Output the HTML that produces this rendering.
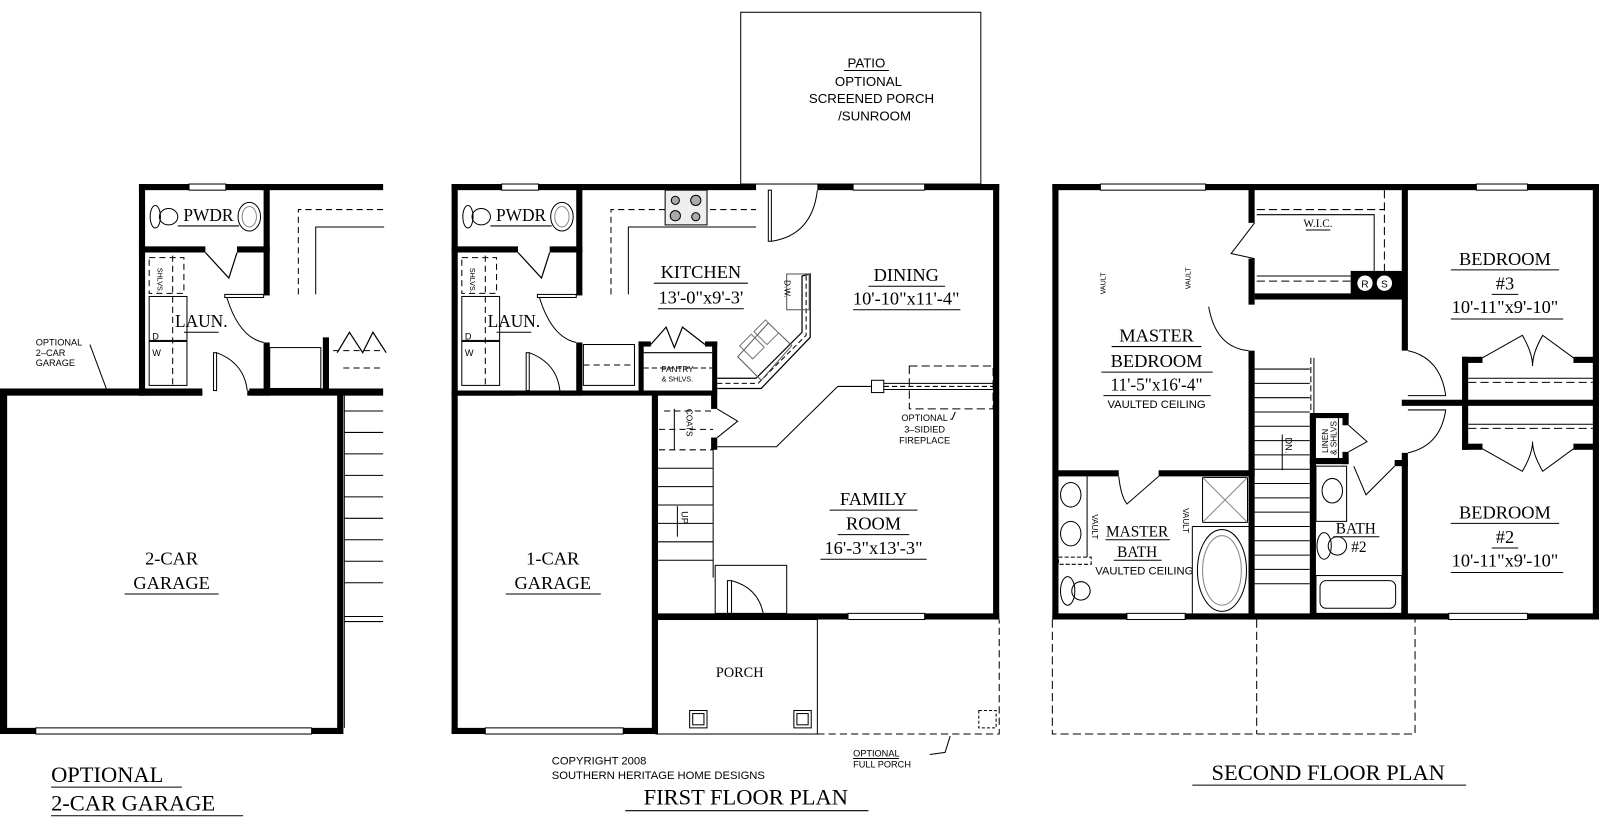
<!DOCTYPE html>
<html><head><meta charset="utf-8"><style>
html,body{margin:0;padding:0;background:#fff;}
svg{display:block;}
.s{font-family:"Liberation Serif",serif;fill:#000;}
.a{font-family:"Liberation Sans",sans-serif;fill:#000;}
</style></head><body>
<svg width="1601" height="825" viewBox="0 0 1567 807" preserveAspectRatio="none" xmlns="http://www.w3.org/2000/svg">
<rect width="1567" height="807" fill="#fff"/>
<defs>
<clipPath id="cl"><rect x="0" y="0" width="376" height="807"/></clipPath>
<g id="blk">
 <rect x="442" y="180" width="6" height="207"/>
 <rect x="442" y="180" width="128" height="6"/>
 <rect x="491" y="180" width="36" height="6" fill="#fff" stroke="#000" stroke-width="1"/>
 <rect x="564" y="180" width="6" height="109"/>
 <rect x="564" y="335" width="6" height="50"/>
 <rect x="442" y="241" width="65" height="6"/>
 <rect x="538" y="241" width="32" height="6"/>
 <path d="M507 247 L530 272 L538 247" fill="none" stroke="#000" stroke-width="1.2"/>
 <rect x="526" y="288" width="38" height="3" fill="none" stroke="#000" stroke-width="1"/>
 <path d="M528 291 Q540 330 564 335" fill="none" stroke="#000" stroke-width="1"/>
 <rect x="452" y="290" width="37" height="43" fill="none" stroke="#000" stroke-width="1"/>
 <rect x="452" y="334" width="37" height="43" fill="none" stroke="#000" stroke-width="1"/>
 <text x="455" y="332" class="a" font-size="9">D</text>
 <text x="455" y="348" class="a" font-size="9">W</text>
 <line x1="475" y1="250" x2="475" y2="380" stroke="#000" stroke-dasharray="6,4" stroke-width="1"/>
 <rect x="452" y="252" width="34" height="35" fill="none" stroke="#000" stroke-dasharray="6,4" stroke-width="1"/>
 <text x="0" y="0" class="a" font-size="7" transform="translate(460,262) rotate(90)">SHLVS.</text>
 <ellipse cx="458" cy="212" rx="5" ry="11" fill="none" stroke="#000"/>
 <ellipse cx="471" cy="212" rx="9" ry="8" fill="none" stroke="#000"/>
 <ellipse cx="550" cy="212" rx="11" ry="14" fill="none" stroke="#000"/>
 <ellipse cx="550" cy="212" rx="7" ry="10" fill="none" stroke="#888"/>
 <text x="510" y="216" text-anchor="middle" class="s" font-size="17">PWDR</text>
 <line x1="480" y1="221" x2="540" y2="221" stroke="#000"/>
 <text x="503" y="320" text-anchor="middle" class="s" font-size="17">LAUN.</text>
 <line x1="486" y1="325" x2="520" y2="325" stroke="#000"/>
 <rect x="442" y="382" width="62" height="5"/>
 <rect x="548" y="382" width="22" height="5"/>
 <rect x="515" y="345" width="3" height="37" fill="none" stroke="#000" stroke-width="1"/>
 <path d="M518 345 Q545 355 548 382" fill="none" stroke="#000" stroke-width="1"/>
 <path d="M598 288 L598 205 L740 205" fill="none" stroke="#000" stroke-dasharray="6,4" stroke-width="1"/>
 <path d="M615 288 L615 222 L740 222" fill="none" stroke="#000" stroke-width="1"/>
</g>
</defs>
<use href="#blk"/>
<g clip-path="url(#cl)"><use href="#blk" transform="translate(-306,0)"/></g>

<!-- ===== LEFT GARAGE PLAN ===== -->
<rect x="256" y="180" width="119" height="6"/>
<rect x="0" y="380" width="198" height="7"/>
<rect x="244" y="380" width="131" height="7"/>
<rect x="0" y="382" width="7" height="336"/>
<rect x="330" y="382" width="6" height="336"/>
<rect x="0" y="712" width="336" height="6"/>
<rect x="35" y="712" width="270" height="6" fill="#fff" stroke="#000" stroke-width="1"/>
<rect x="264" y="340" width="50" height="40" fill="none" stroke="#000" stroke-width="1"/>
<rect x="316" y="330" width="6" height="52"/>
<path d="M330 345 L342 325 L355 345 L365 325 L378 345" fill="none" stroke="#000" stroke-width="1.2"/>
<path d="M316 343 L375 343" fill="none" stroke="#000" stroke-dasharray="6,4" stroke-width="1"/>
<path d="M336 360 L375 360" stroke="#000" stroke-dasharray="6,4" stroke-width="1"/>
<g stroke="#000" stroke-width="1">
<line x1="337" y1="402" x2="375" y2="402"/><line x1="337" y1="423" x2="375" y2="423"/>
<line x1="337" y1="444" x2="375" y2="444"/><line x1="337" y1="465" x2="375" y2="465"/>
<line x1="337" y1="486" x2="375" y2="486"/><line x1="337" y1="507" x2="375" y2="507"/>
<line x1="337" y1="528" x2="375" y2="528"/><line x1="337" y1="549" x2="375" y2="549"/>
<line x1="337" y1="570" x2="375" y2="570"/><line x1="337" y1="603" x2="375" y2="603"/>
<line x1="337" y1="608" x2="375" y2="608"/>
<line x1="337" y1="387" x2="337" y2="712"/>
<line x1="88" y1="337" x2="104" y2="380"/>
</g>
<text x="35" y="338" class="a" font-size="9">OPTIONAL</text>
<text x="35" y="348" class="a" font-size="9">2–CAR</text>
<text x="35" y="358" class="a" font-size="9">GARAGE</text>
<text x="168" y="552" text-anchor="middle" class="s" font-size="18">2-CAR</text>
<text x="168" y="576" text-anchor="middle" class="s" font-size="18">GARAGE</text>
<line x1="122" y1="581" x2="214" y2="581" stroke="#000"/>
<text x="50" y="765" class="s" font-size="22">OPTIONAL</text>
<line x1="50" y1="770" x2="178" y2="770" stroke="#000"/>
<text x="50" y="793" class="s" font-size="22">2-CAR GARAGE</text>
<line x1="50" y1="798" x2="238" y2="798" stroke="#000"/>

<!-- ===== FIRST FLOOR ===== -->
<rect x="725" y="12" width="235" height="168" fill="none" stroke="#000" stroke-width="1"/>
<text x="848" y="66" text-anchor="middle" class="a" font-size="13">PATIO</text>
<line x1="826" y1="69" x2="870" y2="69" stroke="#000"/>
<text x="850" y="84" text-anchor="middle" class="a" font-size="13">OPTIONAL</text>
<text x="853" y="101" text-anchor="middle" class="a" font-size="13">SCREENED PORCH</text>
<text x="856" y="118" text-anchor="middle" class="a" font-size="13">/SUNROOM</text>

<rect x="570" y="180" width="170" height="6"/>
<rect x="800" y="180" width="178" height="6"/>
<rect x="835" y="180" width="70" height="6" fill="#fff" stroke="#000" stroke-width="1"/>
<rect x="752" y="186" width="3" height="50" fill="none" stroke="#000" stroke-width="1"/>
<path d="M755 236 Q795 230 800 186" fill="none" stroke="#000" stroke-width="1"/>
<rect x="651" y="186" width="41" height="34" fill="#eee" stroke="#000"/>
<circle cx="661" cy="196" r="4" fill="#aaa" stroke="#000"/><circle cx="681" cy="196" r="5" fill="#aaa" stroke="#000"/>
<circle cx="661" cy="211" r="5" fill="#aaa" stroke="#000"/><circle cx="681" cy="212" r="4" fill="#aaa" stroke="#000"/>
<rect x="972" y="180" width="6" height="426"/>
<rect x="642" y="600" width="336" height="6"/>
<rect x="830" y="600" width="75" height="6" fill="#fff" stroke="#000" stroke-width="1"/>
<rect x="638" y="382" width="6" height="336"/>
<rect x="442" y="382" width="260" height="5"/>
<rect x="442" y="382" width="6" height="336"/>
<rect x="442" y="712" width="202" height="6"/>
<rect x="475" y="712" width="135" height="6" fill="#fff" stroke="#000" stroke-width="1"/>
<rect x="625" y="334" width="5" height="51"/>
<rect x="697" y="334" width="5" height="51"/>
<rect x="625" y="334" width="12" height="5"/><rect x="690" y="334" width="12" height="5"/>
<path d="M637 337 L652 320 L660 340 L668 320 L690 337" fill="none" stroke="#000" stroke-width="1.2"/>
<line x1="630" y1="345" x2="697" y2="345" stroke="#000"/>
<line x1="630" y1="360" x2="697" y2="360" stroke="#000" stroke-dasharray="5,3"/>
<text x="663" y="364" text-anchor="middle" class="a" font-size="8">PANTRY</text>
<text x="663" y="373" text-anchor="middle" class="a" font-size="7">&amp; SHLVS.</text>
<rect x="571" y="337" width="50" height="40" fill="none" stroke="#000" stroke-width="1"/>
<line x1="571" y1="357" x2="621" y2="357" stroke="#000" stroke-dasharray="6,4"/>
<path d="M702 370 L740 370 L785 325 L785 270 L793 268 L793 330 L745 380 L702 380" fill="none" stroke="#000" stroke-width="1.2"/>
<path d="M702 375 L742 375 L789 328 L789 270" fill="none" stroke="#000" stroke-dasharray="5,3"/>
<rect x="770" y="268" width="22" height="35" fill="none" stroke="#555"/>
<text x="0" y="0" class="a" font-size="8" transform="translate(768,274) rotate(90)">D.W.</text>
<path d="M722 349 L752 316 L775 338 L745 372 Z" fill="none" stroke="#555"/>
<rect x="728" y="330" width="16" height="18" fill="none" stroke="#777" transform="rotate(-45 736 339)"/>
<rect x="742" y="316" width="16" height="18" fill="none" stroke="#777" transform="rotate(-45 750 325)"/>
<rect x="853" y="372" width="12" height="12" fill="#fff" stroke="#000"/>
<line x1="865" y1="375" x2="972" y2="375" stroke="#000"/><line x1="865" y1="381" x2="972" y2="381" stroke="#000"/>
<line x1="865" y1="378" x2="972" y2="378" stroke="#000" stroke-dasharray="5,3"/>
<rect x="890" y="358" width="82" height="42" fill="none" stroke="#000" stroke-dasharray="8,4"/>
<path d="M853 378 L820 378 L760 437 L702 437" fill="none" stroke="#000"/>
<path d="M935 403 L932 410 L930 410" fill="none" stroke="#000"/>
<text x="905" y="412" text-anchor="middle" class="a" font-size="9">OPTIONAL</text>
<text x="905" y="423" text-anchor="middle" class="a" font-size="9">3–SIDIED</text>
<text x="905" y="434" text-anchor="middle" class="a" font-size="9">FIREPLACE</text>
<g stroke="#000" stroke-width="1">
<line x1="698" y1="440" x2="698" y2="565"/>
<line x1="650" y1="402" x2="698" y2="402" stroke-dasharray="6,4"/>
<line x1="645" y1="420" x2="698" y2="420" stroke-dasharray="6,4"/>
<line x1="645" y1="440" x2="698" y2="440" stroke-dasharray="6,4"/>
<line x1="644" y1="458" x2="698" y2="458"/><line x1="644" y1="476" x2="698" y2="476"/>
<line x1="644" y1="494" x2="698" y2="494"/><line x1="644" y1="512" x2="698" y2="512"/>
<line x1="644" y1="530" x2="698" y2="530"/><line x1="644" y1="548" x2="698" y2="548"/>
<line x1="660" y1="400" x2="660" y2="440"/>
<line x1="663" y1="495" x2="663" y2="525"/>
<path d="M702 400 L722 412 L702 428" fill="none"/>
</g>
<rect x="696" y="386" width="6" height="14"/>
<rect x="696" y="428" width="6" height="12"/>
<text x="0" y="0" class="a" font-size="8" transform="translate(672,400) rotate(90)">COATS</text>
<text x="0" y="0" class="a" font-size="9" transform="translate(667,500) rotate(90)">UP</text>
<rect x="700" y="553" width="70" height="47" fill="none" stroke="#000"/>
<rect x="712" y="568" width="4" height="32" fill="none" stroke="#000"/>
<path d="M716 568 Q742 575 747 600" fill="none" stroke="#000"/>
<rect x="642" y="606" width="158" height="112" fill="none" stroke="#000"/>
<path d="M800 718 L978 718 L978 606" fill="none" stroke="#000" stroke-dasharray="7,4"/>
<rect x="675" y="695" width="17" height="17" fill="none" stroke="#000"/><rect x="678" y="698" width="11" height="11" fill="none" stroke="#000"/>
<rect x="777" y="695" width="17" height="17" fill="none" stroke="#000"/><rect x="780" y="698" width="11" height="11" fill="none" stroke="#000"/>
<rect x="958" y="695" width="17" height="17" fill="none" stroke="#000" stroke-dasharray="3,2"/>
<path d="M910 738 L925 736 L930 720" fill="none" stroke="#000"/>
<text x="724" y="662" text-anchor="middle" class="s" font-size="14">PORCH</text>
<text x="835" y="740" class="a" font-size="9">OPTIONAL</text>
<line x1="835" y1="742" x2="880" y2="742" stroke="#000"/>
<text x="835" y="751" class="a" font-size="9">FULL PORCH</text>
<text x="686" y="272" text-anchor="middle" class="s" font-size="18">KITCHEN</text>
<line x1="640" y1="277" x2="732" y2="277" stroke="#000"/>
<text x="686" y="297" text-anchor="middle" class="s" font-size="18">13'-0"x9'-3'</text>
<line x1="644" y1="302" x2="728" y2="302" stroke="#000"/>
<text x="887" y="275" text-anchor="middle" class="s" font-size="18">DINING</text>
<line x1="850" y1="280" x2="925" y2="280" stroke="#000"/>
<text x="887" y="298" text-anchor="middle" class="s" font-size="18">10'-10"x11'-4"</text>
<line x1="835" y1="303" x2="940" y2="303" stroke="#000"/>
<text x="855" y="494" text-anchor="middle" class="s" font-size="18">FAMILY</text>
<line x1="812" y1="499" x2="898" y2="499" stroke="#000"/>
<text x="855" y="518" text-anchor="middle" class="s" font-size="18">ROOM</text>
<line x1="820" y1="523" x2="890" y2="523" stroke="#000"/>
<text x="855" y="542" text-anchor="middle" class="s" font-size="18">16'-3"x13'-3"</text>
<line x1="803" y1="547" x2="907" y2="547" stroke="#000"/>
<text x="541" y="552" text-anchor="middle" class="s" font-size="18">1-CAR</text>
<text x="541" y="576" text-anchor="middle" class="s" font-size="18">GARAGE</text>
<line x1="495" y1="581" x2="588" y2="581" stroke="#000"/>
<text x="540" y="748" class="a" font-size="11">COPYRIGHT  2008</text>
<text x="540" y="762" class="a" font-size="11">SOUTHERN  HERITAGE  HOME  DESIGNS</text>
<text x="730" y="787" text-anchor="middle" class="s" font-size="22">FIRST FLOOR PLAN</text>
<line x1="612" y1="793" x2="850" y2="793" stroke="#000"/>

<!-- ===== SECOND FLOOR ===== -->
<rect x="1030" y="180" width="535" height="6"/>
<rect x="1077" y="180" width="103" height="6" fill="#fff" stroke="#000" stroke-width="1"/>
<rect x="1445" y="180" width="50" height="6" fill="#fff" stroke="#000" stroke-width="1"/>
<rect x="1030" y="180" width="6" height="426"/>
<rect x="1559" y="180" width="6" height="426"/>
<rect x="1030" y="600" width="535" height="6"/>
<rect x="1103" y="600" width="57" height="6" fill="#fff" stroke="#000" stroke-width="1"/>
<rect x="1418" y="600" width="77" height="6" fill="#fff" stroke="#000" stroke-width="1"/>
<rect x="1222" y="180" width="6" height="38"/>
<rect x="1222" y="253" width="6" height="45"/>
<rect x="1222" y="343" width="6" height="263"/>
<path d="M1228 218 L1205 248 L1228 253" fill="none" stroke="#000"/>
<path d="M1183 300 Q1190 340 1222 343" fill="none" stroke="#000"/>
<rect x="1228" y="287" width="145" height="6"/>
<rect x="1372" y="180" width="6" height="163"/>
<rect x="1372" y="443" width="6" height="163"/>
<rect x="1322" y="265" width="51" height="24"/>
<circle cx="1336" cy="277" r="8" fill="#fff" stroke="#000"/><circle cx="1355" cy="277" r="8" fill="#fff" stroke="#000"/>
<text x="1336" y="281" text-anchor="middle" class="a" font-size="10">R</text>
<text x="1355" y="281" text-anchor="middle" class="a" font-size="10">S</text>
<g stroke="#000" stroke-width="1" fill="none">
<path d="M1230 210 L1345 210 L1345 265"/>
<path d="M1230 205 L1355 205" stroke-dasharray="8,4"/>
<path d="M1355 186 L1355 265" stroke-dasharray="8,4"/>
<path d="M1230 270 L1322 270"/><path d="M1230 275 L1322 275" stroke-dasharray="8,4"/>
</g>
<text x="1290" y="222" text-anchor="middle" class="s" font-size="11">W.I.C.</text>
<line x1="1278" y1="225" x2="1302" y2="225" stroke="#000"/>
<g stroke="#000" stroke-width="1">
<line x1="1286" y1="350" x2="1286" y2="406"/>
<line x1="1283" y1="350" x2="1283" y2="406" stroke-dasharray="6,3"/>
<line x1="1228" y1="361" x2="1282" y2="361"/><line x1="1228" y1="375" x2="1282" y2="375"/>
<line x1="1228" y1="389" x2="1282" y2="389"/><line x1="1228" y1="403" x2="1282" y2="403"/>
<line x1="1228" y1="417" x2="1282" y2="417"/><line x1="1228" y1="431" x2="1282" y2="431"/>
<line x1="1228" y1="445" x2="1282" y2="445"/><line x1="1228" y1="459" x2="1282" y2="459"/>
<line x1="1228" y1="473" x2="1282" y2="473"/><line x1="1228" y1="487" x2="1282" y2="487"/>
<line x1="1228" y1="501" x2="1282" y2="501"/><line x1="1228" y1="515" x2="1282" y2="515"/>
<line x1="1228" y1="529" x2="1282" y2="529"/><line x1="1228" y1="543" x2="1282" y2="543"/>
<line x1="1228" y1="557" x2="1282" y2="557"/><line x1="1228" y1="571" x2="1282" y2="571"/>
<line x1="1255" y1="425" x2="1255" y2="460"/>
</g>
<text x="0" y="0" class="a" font-size="9" transform="translate(1258,428) rotate(90)">DN.</text>
<rect x="1282" y="406" width="6" height="200"/>
<rect x="1282" y="404" width="38" height="5"/>
<rect x="1282" y="448" width="38" height="6"/>
<rect x="1314" y="404" width="6" height="12"/><rect x="1314" y="442" width="6" height="12"/>
<path d="M1320 416 L1338 432 L1320 442" fill="none" stroke="#000"/>
<line x1="1310" y1="409" x2="1310" y2="448" stroke="#000"/>
<text x="0" y="0" class="a" font-size="8" transform="translate(1300,443) rotate(-90)">LINEN</text>
<text x="0" y="0" class="a" font-size="8" transform="translate(1308,445) rotate(-90)">&amp; SHLVS</text>
<rect x="1365" y="450" width="13" height="6"/>
<path d="M1365 456 L1337 484 L1325 456" fill="none" stroke="#000"/>
<rect x="1288" y="456" width="30" height="54" fill="none" stroke="#000"/>
<ellipse cx="1304" cy="480" rx="10" ry="12" fill="none" stroke="#000"/>
<ellipse cx="1296" cy="534" rx="7" ry="13" fill="none" stroke="#000"/>
<ellipse cx="1309" cy="534" rx="9" ry="9" fill="none" stroke="#000"/>
<rect x="1288" y="563" width="84" height="37" fill="none" stroke="#000"/>
<rect x="1292" y="568" width="74" height="27" rx="6" fill="none" stroke="#000"/>
<text x="1327" y="522" text-anchor="middle" class="s" font-size="15">BATH</text>
<line x1="1305" y1="525" x2="1350" y2="525" stroke="#000"/>
<text x="1330" y="540" text-anchor="middle" class="s" font-size="15">#2</text>
<rect x="1431" y="349" width="6" height="91"/>
<rect x="1431" y="349" width="20" height="6"/><rect x="1540" y="349" width="25" height="6"/>
<rect x="1372" y="391" width="193" height="6"/>
<rect x="1431" y="434" width="20" height="6"/><rect x="1540" y="434" width="25" height="6"/>
<g stroke="#000" stroke-width="1" fill="none">
<path d="M1451 350 L1490 328 Q1500 345 1500 358 Q1500 345 1510 328 L1540 350"/>
<path d="M1451 439 L1490 461 Q1500 444 1500 432 Q1500 444 1510 461 L1540 439"/>
<line x1="1437" y1="370" x2="1559" y2="370"/><line x1="1437" y1="374" x2="1559" y2="374" stroke-dasharray="8,4"/>
<line x1="1437" y1="415" x2="1559" y2="415"/><line x1="1437" y1="419" x2="1559" y2="419" stroke-dasharray="8,4"/>
<path d="M1378 343 Q1410 350 1415 387 L1378 387"/>
<path d="M1378 443 Q1410 436 1415 401 L1378 401"/>
</g>
<rect x="1036" y="460" width="59" height="6"/>
<rect x="1134" y="460" width="94" height="6"/>
<path d="M1095 466 Q1097 485 1103 493 L1134 466" fill="none" stroke="#000"/>
<line x1="1064" y1="466" x2="1064" y2="545" stroke="#000"/>
<rect x="1036" y="545" width="32" height="7" fill="none" stroke="#000" stroke-dasharray="4,2"/>
<ellipse cx="1048" cy="484" rx="10" ry="12" fill="none" stroke="#000"/>
<ellipse cx="1048" cy="522" rx="10" ry="12" fill="none" stroke="#000"/>
<ellipse cx="1045" cy="578" rx="7" ry="14" fill="none" stroke="#000"/>
<ellipse cx="1058" cy="578" rx="9" ry="9" fill="none" stroke="#000"/>
<rect x="1177" y="467" width="44" height="44" fill="none" stroke="#000"/>
<path d="M1177 467 L1221 511 M1221 467 L1177 511" stroke="#888"/>
<line x1="1167" y1="515" x2="1167" y2="600" stroke="#000"/>
<line x1="1167" y1="515" x2="1222" y2="515" stroke="#000"/>
<ellipse cx="1196" cy="558" rx="24" ry="40" fill="none" stroke="#000"/>
<ellipse cx="1196" cy="558" rx="19" ry="34" fill="none" stroke="#888"/>
<text x="0" y="0" class="a" font-size="8" transform="translate(1069,503) rotate(90)">VAULT</text>
<text x="0" y="0" class="a" font-size="8" transform="translate(1158,497) rotate(90)">VAULT</text>
<text x="1113" y="525" text-anchor="middle" class="s" font-size="15">MASTER</text>
<line x1="1082" y1="528" x2="1145" y2="528" stroke="#000"/>
<text x="1113" y="545" text-anchor="middle" class="s" font-size="15">BATH</text>
<line x1="1090" y1="548" x2="1137" y2="548" stroke="#000"/>
<text x="1120" y="562" text-anchor="middle" class="a" font-size="11">VAULTED  CEILING</text>
<text x="0" y="0" class="a" font-size="7" transform="translate(1082,288) rotate(-90)">VAULT</text>
<text x="0" y="0" class="a" font-size="7" transform="translate(1165,283) rotate(-90)">VAULT</text>
<text x="1132" y="334" text-anchor="middle" class="s" font-size="18">MASTER</text>
<line x1="1088" y1="339" x2="1176" y2="339" stroke="#000"/>
<text x="1132" y="359" text-anchor="middle" class="s" font-size="18">BEDROOM</text>
<line x1="1078" y1="364" x2="1187" y2="364" stroke="#000"/>
<text x="1132" y="382" text-anchor="middle" class="s" font-size="17">11'-5"x16'-4"</text>
<line x1="1080" y1="387" x2="1185" y2="387" stroke="#000"/>
<text x="1132" y="399" text-anchor="middle" class="a" font-size="11">VAULTED CEILING</text>
<text x="1473" y="259" text-anchor="middle" class="s" font-size="18">BEDROOM</text>
<line x1="1420" y1="264" x2="1526" y2="264" stroke="#000"/>
<text x="1473" y="283" text-anchor="middle" class="s" font-size="18">#3</text>
<line x1="1460" y1="288" x2="1486" y2="288" stroke="#000"/>
<text x="1473" y="306" text-anchor="middle" class="s" font-size="18">10'-11"x9'-10"</text>
<line x1="1420" y1="312" x2="1530" y2="312" stroke="#000"/>
<text x="1473" y="507" text-anchor="middle" class="s" font-size="18">BEDROOM</text>
<line x1="1420" y1="512" x2="1526" y2="512" stroke="#000"/>
<text x="1473" y="531" text-anchor="middle" class="s" font-size="18">#2</text>
<line x1="1460" y1="536" x2="1486" y2="536" stroke="#000"/>
<text x="1473" y="554" text-anchor="middle" class="s" font-size="18">10'-11"x9'-10"</text>
<line x1="1420" y1="560" x2="1530" y2="560" stroke="#000"/>
<path d="M1030 606 L1030 718 L1385 718 L1385 606 M1230 606 L1230 718" fill="none" stroke="#000" stroke-dasharray="8,4"/>
<text x="1300" y="763" text-anchor="middle" class="s" font-size="22">SECOND FLOOR PLAN</text>
<line x1="1167" y1="768" x2="1435" y2="768" stroke="#000"/>
</svg>
</body></html>
